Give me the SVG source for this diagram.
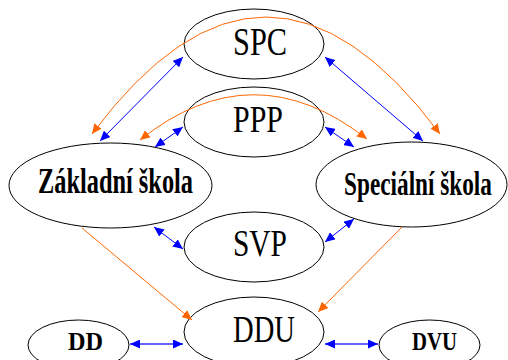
<svg xmlns="http://www.w3.org/2000/svg" width="508" height="360" viewBox="0 0 508 360">
<style>
.node ellipse{fill:#fff;stroke:#000;stroke-width:1}
.lbl{font-family:"Liberation Serif","Times New Roman",serif;fill:#000;text-anchor:middle}
.b{font-weight:bold}
.blue{stroke:#0000ff;stroke-width:1;fill:none;marker-start:url(#ab);marker-end:url(#ab)}
.blue2{stroke:#3333ff;stroke-width:1.6;fill:none;marker-start:url(#ab);marker-end:url(#ab)}
.or{stroke:#ff6600;stroke-width:1;fill:none;marker-end:url(#ao)}
.or2{stroke:#ff6600;stroke-width:1;fill:none;marker-start:url(#ao);marker-end:url(#ao)}
</style>
<defs>
<marker id="ab" markerUnits="userSpaceOnUse" markerWidth="11" markerHeight="9" refX="10" refY="4.5" orient="auto-start-reverse"><path d="M0,0 L10,4.5 L0,9 z" fill="#0000ff"/></marker>
<marker id="ao" markerUnits="userSpaceOnUse" markerWidth="11" markerHeight="9" refX="10" refY="4.5" orient="auto-start-reverse"><path d="M0,0 L10,4.5 L0,9 z" fill="#ff6600"/></marker>
</defs>
<rect width="508" height="360" fill="#fff"/>
<g id="nodes">
<g id="spc" class="node"><ellipse cx="254" cy="44" rx="70" ry="35"/><text class="lbl" x="260" y="55" font-size="40" textLength="54" lengthAdjust="spacingAndGlyphs">SPC</text></g>
<g id="ppp" class="node"><ellipse cx="254" cy="122" rx="70" ry="35"/><text class="lbl" x="258" y="132" font-size="38" textLength="50" lengthAdjust="spacingAndGlyphs">PPP</text></g>
<g id="zs" class="node"><ellipse cx="110.5" cy="185.5" rx="101.5" ry="42.5"/><text class="lbl b" x="115.5" y="193" font-size="35" textLength="155" lengthAdjust="spacingAndGlyphs">Základní škola</text></g>
<g id="ss" class="node"><ellipse cx="411.5" cy="184.5" rx="95.5" ry="42.5"/><text class="lbl b" transform="translate(418,195) scale(0.66,1)" x="0" y="0" font-size="34" textLength="224" lengthAdjust="spacingAndGlyphs">Speciální škola</text></g>
<g id="svp" class="node"><ellipse cx="254" cy="247" rx="70" ry="35"/><text class="lbl" x="260" y="256" font-size="38" textLength="54" lengthAdjust="spacingAndGlyphs">SVP</text></g>
<g id="ddu" class="node"><ellipse cx="254" cy="332" rx="70" ry="35"/><text class="lbl" x="264" y="342" font-size="38" textLength="62" lengthAdjust="spacingAndGlyphs">DDU</text></g>
<g id="dd" class="node"><ellipse cx="78.5" cy="345" rx="50.5" ry="25"/><text class="lbl b" x="85.5" y="350" font-size="26" textLength="35" lengthAdjust="spacingAndGlyphs">DD</text></g>
<g id="dvu" class="node"><ellipse cx="429.5" cy="345" rx="50.5" ry="25"/><text class="lbl b" x="434.5" y="350" font-size="26" textLength="45" lengthAdjust="spacingAndGlyphs">DVU</text></g>
</g>
<g id="connectors">
<path class="blue" d="M100,141 L183,57"/>
<path class="blue" d="M423,141 L325,57"/>
<path class="blue" d="M155,147 L183,127"/>
<path class="blue" d="M354,147 L325,127"/>
<path class="blue" d="M154,227 L183,249"/>
<path class="blue" d="M354,219 L325,242"/>
<path class="blue2" d="M130,344 L183,344"/>
<path class="blue2" d="M325,344 L378,344"/>
<path class="or2" d="M92,134 Q266,-100 440,134"/>
<path class="or2" d="M140,140 Q253,50 367,139"/>
<path class="or" d="M82,228 L192,320"/>
<path class="or" d="M402,227 L318,312"/>
</g>
</svg>
